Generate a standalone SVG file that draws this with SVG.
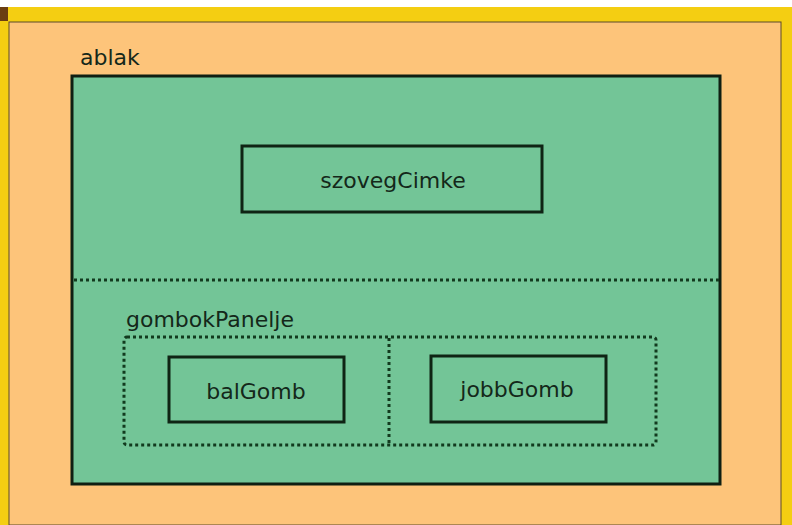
<svg xmlns="http://www.w3.org/2000/svg" width="792" height="525" viewBox="0 0 792 525">
<style>
.lbl{font-family:"DejaVu Sans",sans-serif;font-size:22px;fill:#14281a}
.box{fill:none;stroke:#0f2414;stroke-width:3}
.dot{fill:none;stroke:#123a1e;stroke-width:3;stroke-dasharray:3 3}
</style>
<rect x="0" y="0" width="792" height="525" fill="#ffffff"/>
<rect x="0" y="7" width="792" height="518" fill="#f4ce12"/>
<rect x="0" y="7" width="8" height="14" fill="#6a3d12"/>
<rect x="9" y="22" width="772" height="503" fill="#fdc47a" stroke="#5a4a2a" stroke-width="1"/>
<g id="ablak">
<rect x="72" y="76" width="648" height="408" fill="#73c597" stroke="#0f1f12" stroke-width="3"/>
<text class="lbl" x="80" y="65">ablak</text>
<line class="dot" x1="74" y1="280" x2="719" y2="280"/>
</g>
<g id="szovegCimke">
<rect class="box" x="242" y="146" width="300" height="66"/>
<text class="lbl" x="393" y="188" text-anchor="middle">szovegCimke</text>
</g>
<g id="gombokPanelje">
<text class="lbl" x="126" y="327">gombokPanelje</text>
<rect class="dot" x="124" y="337" width="532" height="108" rx="3"/>
<line class="dot" x1="389" y1="338" x2="389" y2="444"/>
</g>
<g id="balGomb">
<rect class="box" x="169" y="357" width="175" height="65"/>
<text class="lbl" x="256" y="399" text-anchor="middle">balGomb</text>
</g>
<g id="jobbGomb">
<rect class="box" x="431" y="356" width="175" height="66"/>
<text class="lbl" x="517" y="397" text-anchor="middle">jobbGomb</text>
</g>
<g id="connectors"></g>
</svg>
